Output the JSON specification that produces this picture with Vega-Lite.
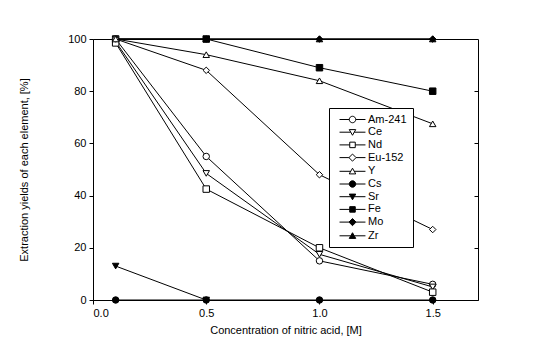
{
  "$schema": "https://vega.github.io/schema/vega-lite/v6.json",
  "width": 385,
  "height": 261,
  "autosize": {"type": "none"},
  "padding": {"left": 93, "top": 39, "right": 69, "bottom": 55},
  "background": "white",
  "config": {
    "font": "Liberation Sans",
    "view": {"stroke": "black", "strokeWidth": 1},
    "axis": {
      "grid": false,
      "domainColor": "black",
      "tickColor": "black",
      "labelColor": "black",
      "titleColor": "black",
      "labelFont": "Liberation Sans",
      "titleFont": "Liberation Sans",
      "labelFontSize": 11,
      "titleFontSize": 11,
      "titleFontWeight": "normal",
      "tickSize": 4
    },
    "legend": {
      "labelFont": "Liberation Sans",
      "labelFontSize": 11,
      "labelColor": "black"
    }
  },
  "datasets": {
    "d": [
      {"c": 0.1, "v": 100, "e": "Zr"}, {"c": 0.5, "v": 100, "e": "Zr"}, {"c": 1.0, "v": 100, "e": "Zr"}, {"c": 1.5, "v": 100, "e": "Zr"},
      {"c": 0.1, "v": 100, "e": "Fe"},
      {"c": 0.1, "v": 100, "e": "Mo"}, {"c": 0.5, "v": 100, "e": "Mo"}, {"c": 1.0, "v": 100, "e": "Mo"}, {"c": 1.5, "v": 100, "e": "Mo"},
      {"c": 0.5, "v": 100, "e": "Fe"}, {"c": 1.0, "v": 89, "e": "Fe"}, {"c": 1.5, "v": 80, "e": "Fe"},
      {"c": 0.1, "v": 100, "e": "Am-241"}, {"c": 0.5, "v": 55, "e": "Am-241"}, {"c": 1.0, "v": 15, "e": "Am-241"}, {"c": 1.5, "v": 6, "e": "Am-241"},
      {"c": 0.1, "v": 99, "e": "Ce"}, {"c": 0.5, "v": 48.5, "e": "Ce"}, {"c": 1.0, "v": 17.5, "e": "Ce"}, {"c": 1.5, "v": 5, "e": "Ce"},
      {"c": 0.1, "v": 98.5, "e": "Nd"}, {"c": 0.5, "v": 42.5, "e": "Nd"}, {"c": 1.0, "v": 20, "e": "Nd"}, {"c": 1.5, "v": 3, "e": "Nd"},
      {"c": 0.1, "v": 100, "e": "Eu-152"}, {"c": 0.5, "v": 88, "e": "Eu-152"}, {"c": 1.0, "v": 48, "e": "Eu-152"}, {"c": 1.5, "v": 27, "e": "Eu-152"},
      {"c": 0.1, "v": 100, "e": "Y"}, {"c": 0.5, "v": 94, "e": "Y"}, {"c": 1.0, "v": 84, "e": "Y"}, {"c": 1.5, "v": 67.5, "e": "Y"},
      {"c": 0.1, "v": 13, "e": "Sr"}, {"c": 0.5, "v": 0, "e": "Sr"},
      {"c": 0.1, "v": 0, "e": "Cs"}, {"c": 0.5, "v": 0, "e": "Cs"}, {"c": 1.0, "v": 0, "e": "Cs"}, {"c": 1.5, "v": 0, "e": "Cs"}
    ]
  },
  "data": {"name": "d"},
  "layer": [
    {
      "mark": {"type": "line", "color": "black", "strokeWidth": 1},
      "encoding": {
        "x": {
          "field": "c", "type": "quantitative",
          "scale": {"domain": [0, 1.7], "nice": false, "zero": false},
          "axis": {"values": [0, 0.5, 1.0, 1.5], "format": ".1f", "title": "Concentration of nitric acid, [M]", "titlePadding": 6, "labelPadding": 3}
        },
        "y": {
          "field": "v", "type": "quantitative",
          "scale": {"domain": [0, 100], "nice": false},
          "axis": {"values": [0, 20, 40, 60, 80, 100], "title": "Extraction yields of each element, [%]", "titlePadding": 38, "labelPadding": 3}
        },
        "detail": {"field": "e"},
        "order": {"field": "c"}
      }
    },
    {
      "mark": {"type": "point", "filled": true, "stroke": "black", "strokeWidth": 1, "size": 42, "opacity": 1},
      "encoding": {
        "x": {"field": "c", "type": "quantitative"},
        "y": {"field": "v", "type": "quantitative", "scale": {"domain": [0, 100], "nice": false}, "axis": null},
        "shape": {
          "field": "e", "type": "nominal", "legend": null,
          "scale": {
            "domain": ["Am-241", "Ce", "Nd", "Eu-152", "Y", "Cs", "Sr", "Fe", "Mo", "Zr"],
            "range": ["circle", "triangle-down", "square", "diamond", "triangle-up", "circle", "triangle-down", "square", "diamond", "triangle-up"]
          }
        },
        "fill": {
          "field": "e", "type": "nominal", "legend": null,
          "scale": {
            "domain": ["Am-241", "Ce", "Nd", "Eu-152", "Y", "Cs", "Sr", "Fe", "Mo", "Zr"],
            "range": ["white", "white", "white", "white", "white", "black", "black", "black", "black", "black"]
          }
        }
      }
    },
    {
      "transform": [{"filter": "false"}],
      "mark": {"type": "point", "filled": true, "stroke": "black", "strokeWidth": 1, "size": 42, "opacity": 1},
      "encoding": {
        "x": {"field": "c", "type": "quantitative"},
        "y": {
          "field": "v", "type": "quantitative",
          "scale": {"domain": [0, 100], "nice": false},
          "axis": {"orient": "right", "values": [20, 40, 60, 80], "labels": false, "domain": false, "title": null, "tickSize": -4}
        },
        "shape": {
          "field": "e", "type": "nominal",
          "scale": {
            "domain": ["Am-241", "Ce", "Nd", "Eu-152", "Y", "Cs", "Sr", "Fe", "Mo", "Zr"],
            "range": [
              "M-4,0H-1M1,0H4M1,0A1,1,0,1,1,-1,0A1,1,0,1,1,1,0Z",
              "M-4,0H-0.55M0.55,0H4M-1,-0.8L1,-0.8L0,0.95Z",
              "M-4,0H-0.85M0.85,0H4M-0.85,-0.85H0.85V0.85H-0.85Z",
              "M-4,0H-1.1M1.1,0H4M0,-1.1L1.1,0L0,1.1L-1.1,0Z",
              "M-4,0H-0.55M0.55,0H4M0,-0.95L1,0.8L-1,0.8Z",
              "M-4,0H-1M1,0H4M1,0A1,1,0,1,1,-1,0A1,1,0,1,1,1,0Z",
              "M-4,0H-0.55M0.55,0H4M-1,-0.8L1,-0.8L0,0.95Z",
              "M-4,0H-0.85M0.85,0H4M-0.85,-0.85H0.85V0.85H-0.85Z",
              "M-4,0H-1.1M1.1,0H4M0,-1.1L1.1,0L0,1.1L-1.1,0Z",
              "M-4,0H-0.55M0.55,0H4M0,-0.95L1,0.8L-1,0.8Z"
            ]
          },
          "legend": {
            "title": null,
            "orient": "none",
            "legendX": 236,
            "legendY": 69,
            "padding": 6,
            "strokeColor": "black",
            "fillColor": "white",
            "symbolOffset": 12,
            "labelOffset": 10,
            "rowPadding": 0.7,
            "symbolSize": 42,
            "symbolOpacity": 1,
            "symbolStrokeColor": "black",
            "symbolStrokeWidth": 1,
            "encode": {"symbols": {"update": {"stroke": {"value": "black"}, "strokeWidth": {"value": 1}, "opacity": {"value": 1}}}}
          }
        },
        "fill": {
          "field": "e", "type": "nominal",
          "scale": {
            "domain": ["Am-241", "Ce", "Nd", "Eu-152", "Y", "Cs", "Sr", "Fe", "Mo", "Zr"],
            "range": ["white", "white", "white", "white", "white", "black", "black", "black", "black", "black"]
          },
          "legend": {
            "title": null,
            "orient": "none",
            "legendX": 236,
            "legendY": 69,
            "padding": 6,
            "strokeColor": "black",
            "fillColor": "white",
            "symbolOffset": 12,
            "labelOffset": 10,
            "rowPadding": 0.7,
            "symbolSize": 42,
            "symbolOpacity": 1,
            "symbolStrokeColor": "black",
            "symbolStrokeWidth": 1,
            "encode": {"symbols": {"update": {"stroke": {"value": "black"}, "strokeWidth": {"value": 1}, "opacity": {"value": 1}}}}
          }
        }
      }
    }
  ],
  "resolve": {"scale": {"shape": "independent", "fill": "independent", "y": "independent"}, "axis": {"y": "independent"}, "legend": {"shape": "independent", "fill": "independent"}}
}
